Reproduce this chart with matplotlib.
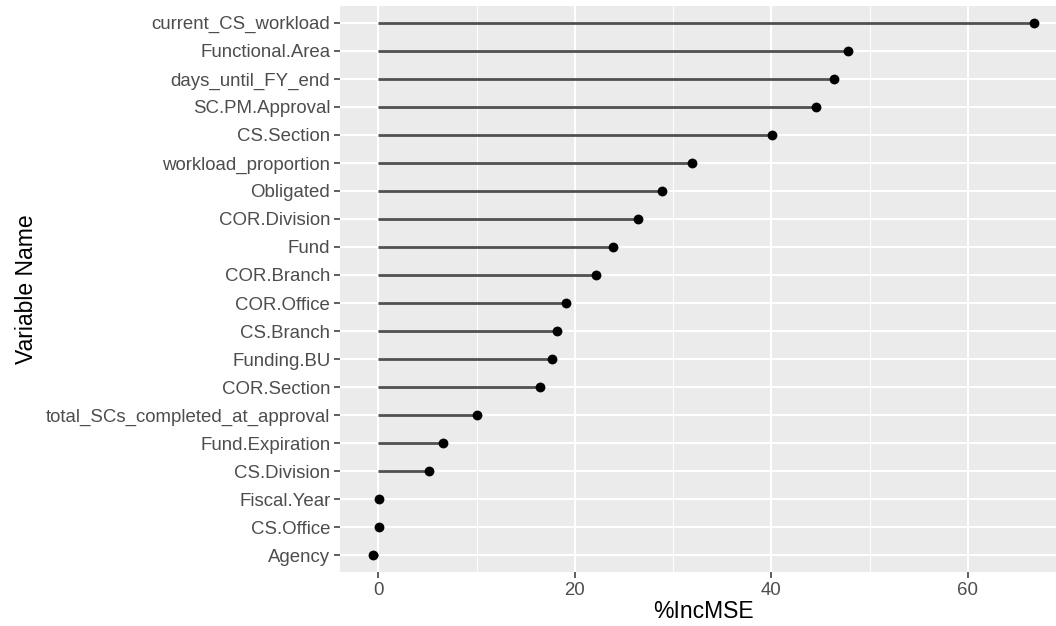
import matplotlib
matplotlib.use("Agg")
import matplotlib.pyplot as plt
from matplotlib.ticker import MultipleLocator

variables = ["current_CS_workload", "Functional.Area", "days_until_FY_end", "SC.PM.Approval",
             "CS.Section", "workload_proportion", "Obligated", "COR.Division", "Fund",
             "COR.Branch", "COR.Office", "CS.Branch", "Funding.BU", "COR.Section",
             "total_SCs_completed_at_approval", "Fund.Expiration", "CS.Division",
             "Fiscal.Year", "CS.Office", "Agency"]
inc_mse = [66.7, 47.8, 46.4, 44.6, 40.1, 31.9, 28.9, 26.4, 23.9, 22.2, 19.1, 18.2, 17.7,
           16.5, 10.0, 6.6, 5.2, 0.05, 0.05, -0.55]

plt.rcParams['font.family'] = ['Liberation Sans', 'DejaVu Sans']

fig = plt.figure(figsize=(10.56, 6.26), dpi=100)
ax = fig.add_axes([340/1056, 1-572/626, (1067-340)/1056, (572-6)/626])
ax.set_facecolor('#EBEBEB')

n = len(variables)
ypos = list(range(n - 1, -1, -1))

ax.hlines(ypos, 0, inc_mse, color='#505050', linewidth=2.0, zorder=3)
ax.scatter(inc_mse, ypos, s=50, color='black', zorder=4, linewidths=0)

ax.set_xlim(-3.9, 70.1)
ax.set_ylim(-0.6, n - 1 + 0.6)
ax.set_yticks(ypos)
ax.set_yticklabels(variables)
ax.xaxis.set_major_locator(MultipleLocator(20))
ax.xaxis.set_minor_locator(MultipleLocator(10))

ax.grid(which='major', color='white', linewidth=1.5, zorder=0)
ax.grid(which='minor', axis='x', color='white', linewidth=0.7, zorder=0)
ax.set_axisbelow(True)
for s in ax.spines.values():
    s.set_visible(False)

ax.tick_params(axis='both', which='major', length=4, width=1.1, color='#333333',
               labelcolor='#4D4D4D', labelsize=13.4, pad=3)
ax.tick_params(axis='both', which='minor', length=0)

ax.set_xlabel('%IncMSE', fontsize=16.5, color='black', labelpad=1)
ax.set_ylabel('Variable Name', fontsize=16.5, color='black', labelpad=6)

fig.savefig('out.png', dpi=100)
